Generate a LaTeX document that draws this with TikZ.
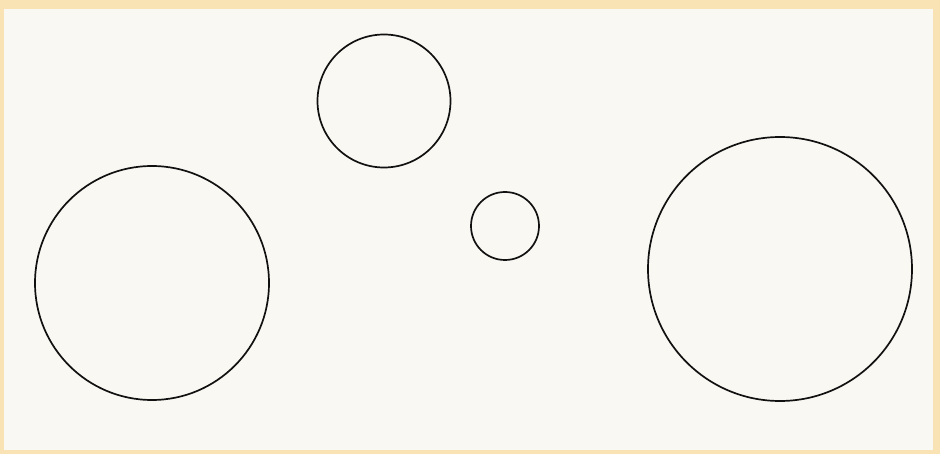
\documentclass[tikz,border=0pt]{standalone}
\definecolor{paperedge}{HTML}{F9E2B4}
\definecolor{paper}{HTML}{FAF8F2}
\definecolor{ink}{HTML}{111111}
\begin{document}
\begin{tikzpicture}[x=1pt,y=-1pt,
  ring/.style={circle, draw=ink, line width=1.7pt, inner sep=0pt, fill=none}]
\fill[paperedge] (0,0) rectangle (940,454);
\fill[paper] (4,9) rectangle (933,450);
\useasboundingbox (0,0) rectangle (940,454);
\node[ring, minimum size=234pt] (left) at (152,283) {};
\node[ring, minimum size=133pt] (top) at (384,101) {};
\node[ring, minimum size=68pt] (small) at (505,226) {};
\node[ring, minimum size=264pt] (right) at (780,269) {};
\end{tikzpicture}
\end{document}
